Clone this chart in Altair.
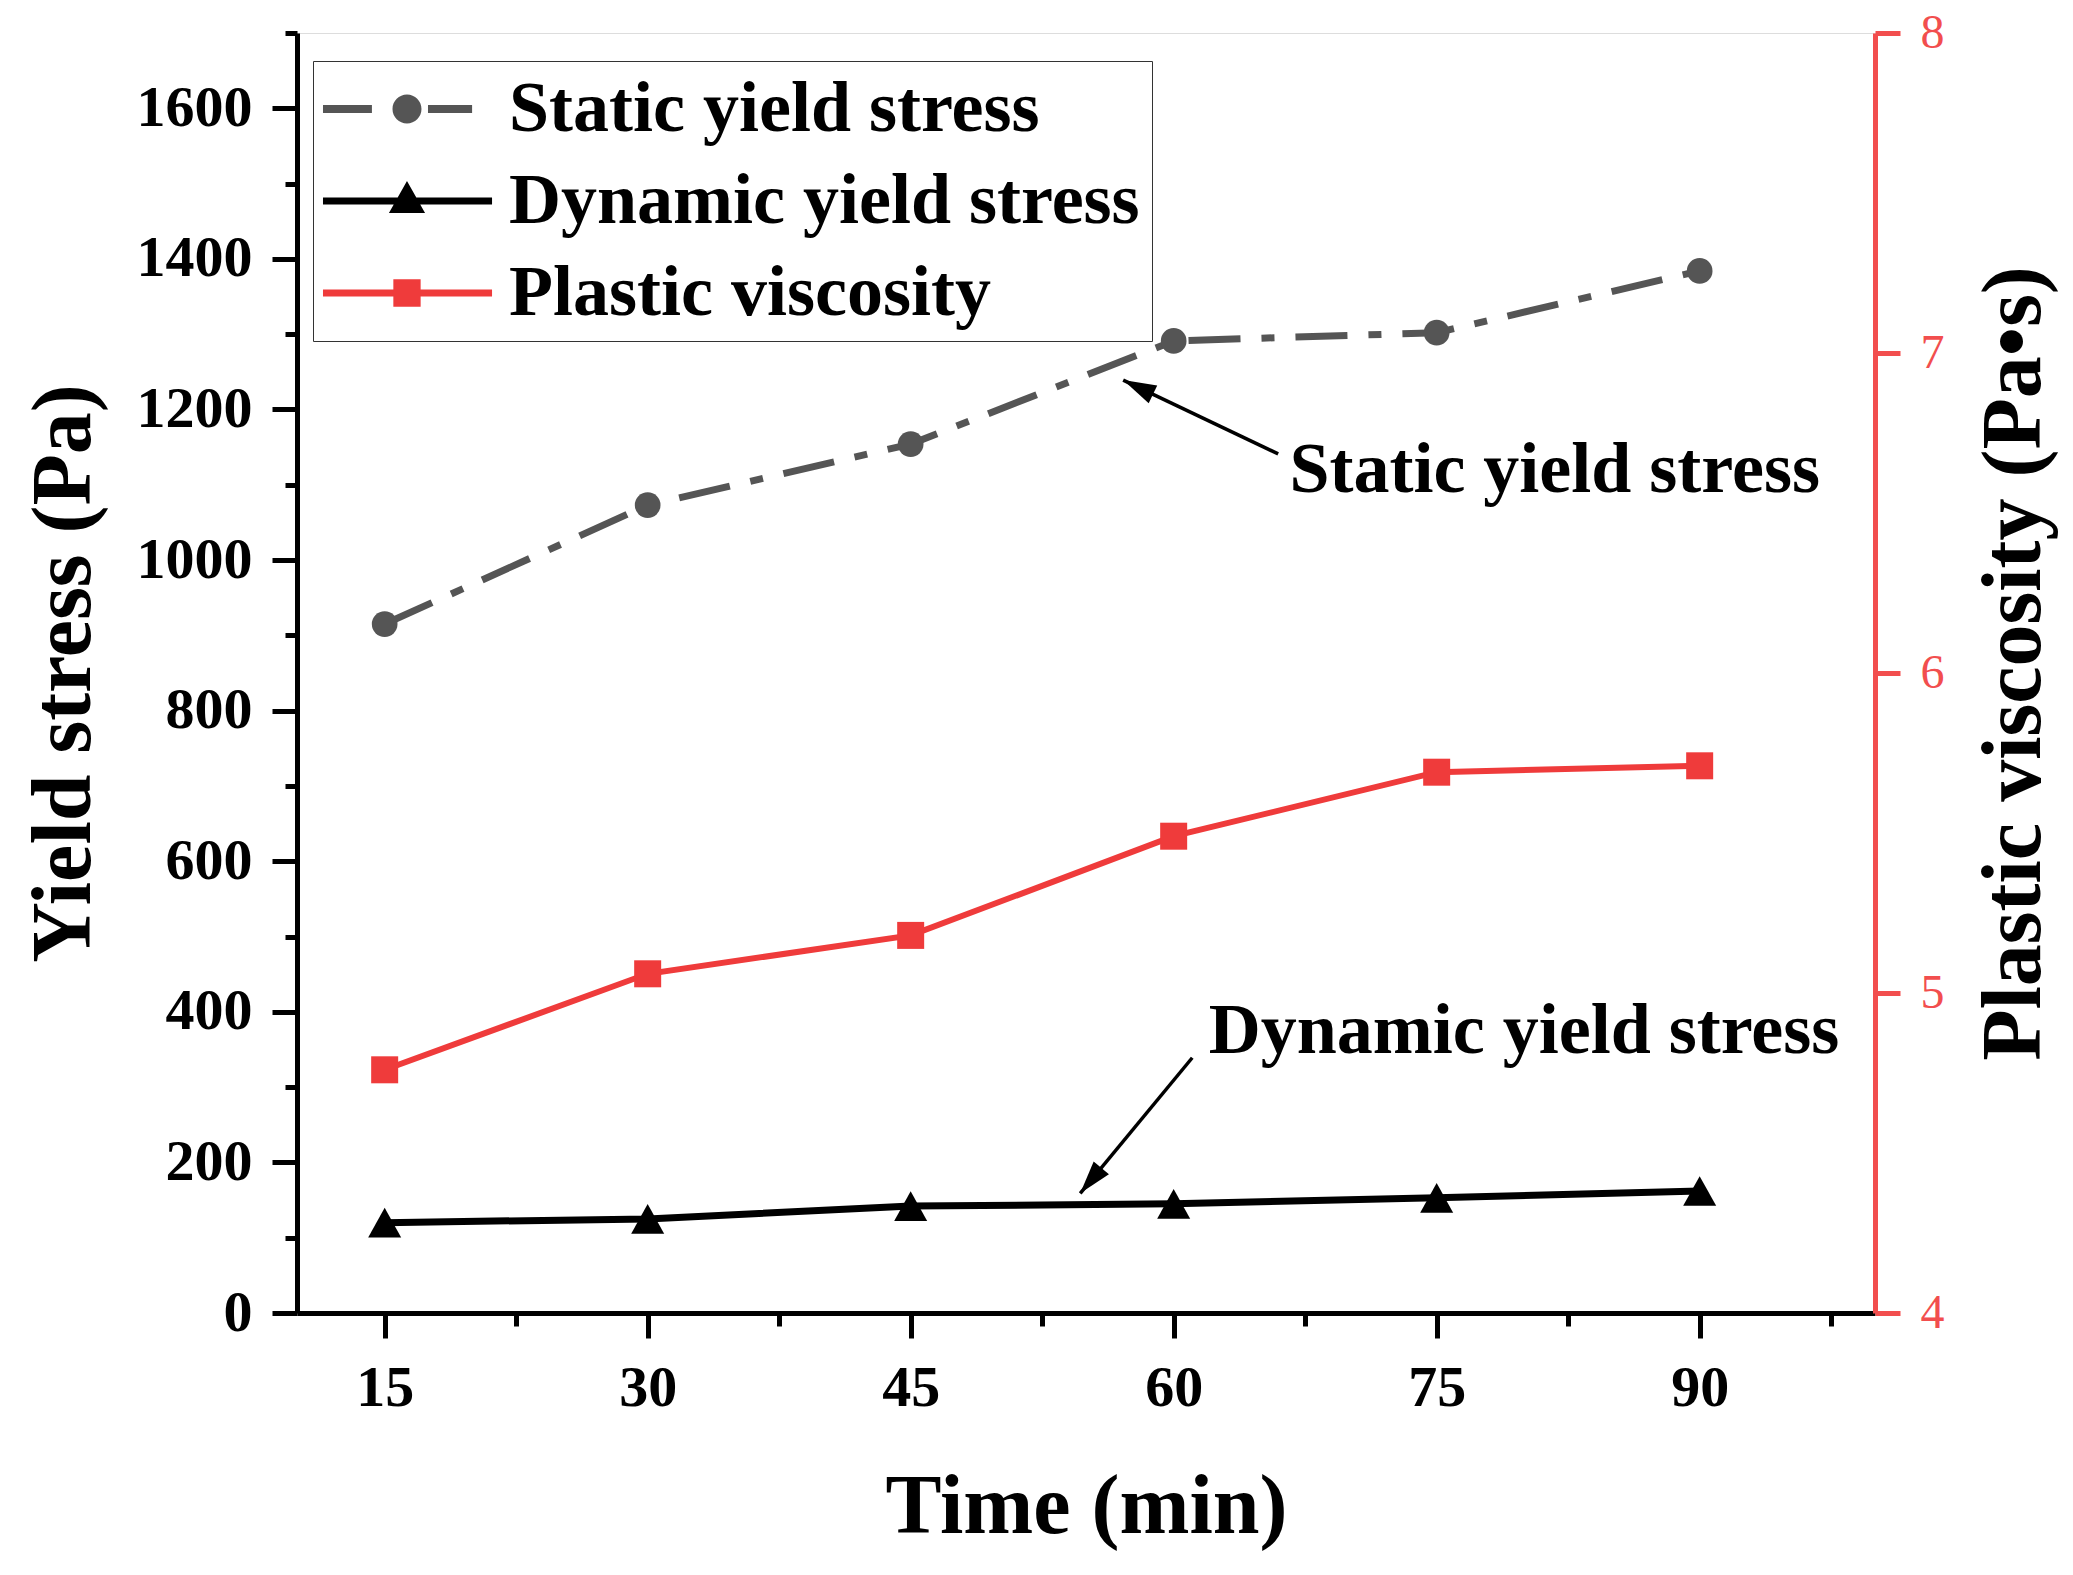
import altair as alt
import pandas as pd

# ---------------- data ----------------
time = [15, 30, 45, 60, 75, 90]
static_ys = [915, 1073, 1154, 1291, 1302, 1384]
dynamic_ys = [120, 125, 142, 145, 153, 162]
viscosity = [4.76, 5.06, 5.18, 5.49, 5.69, 5.71]

series = ["Static yield stress", "Dynamic yield stress", "Plastic viscosity"]
series_colors = ["#555555", "#000000", "#EF3B3B"]

# annotation texts and arrows (data coordinates)
ann_labels = ["Static yield stress", "Dynamic yield stress"]
ann_text_x = [66.6, 62.0]
ann_text_y = [1090, 345]
arrow_tail_x = [65.96, 61.06]
arrow_tail_y = [1141, 339]
arrow_tip_x = [57.12, 54.67]
arrow_tip_y = [1239, 159]
arrow_angle = [295.5, 219.7]

x_ticks = [15 + 7.5 * i for i in range(12)]
left_ticks = list(range(0, 1701, 100))
right_ticks = [4 + 0.5 * i for i in range(9)]

FONT = "Liberation Serif"
AXIS_RED = "#F24E4E"

df = pd.DataFrame({"time": time, "static": static_ys, "dynamic": dynamic_ys, "visc": viscosity})
ann = pd.DataFrame({
    "label": ann_labels, "tx": ann_text_x, "ty": ann_text_y,
    "x1": arrow_tail_x, "y1": arrow_tail_y, "x2": arrow_tip_x, "y2": arrow_tip_y,
    "angle": arrow_angle,
})
leg = pd.DataFrame({"series": series, "time": [time[0]] * 3, "val": [static_ys[0]] * 3})

W, H = 1578, 1280

x_axis = alt.Axis(
    title="Time (min)", values=x_ticks, format="d",
    labelExpr="(datum.value - 15) % 15 === 0 ? datum.label : ''",
    tickDash={"condition": {"test": "(datum.value - 15) % 15 !== 0", "value": [13, 100]}, "value": [100, 0]},
    tickSize=25, tickWidth=5, tickColor="black", domainColor="black", domainWidth=5,
    labelFont=FONT, labelFontWeight="bold", labelFontSize=58, labelColor="black",
    labelBaseline="alphabetic", labelPadding=67, labelOverlap=False, labelFlush=False,
    titleFont=FONT, titleFontWeight="bold", titleFontSize=84, titleColor="black",
    titleX=W / 2, titleY=219, titleBaseline="alphabetic", titleAlign="center",
    grid=False, orient="bottom",
)
left_axis = alt.Axis(
    title="Yield stress (Pa)", values=left_ticks, format="d",
    labelExpr="datum.value % 200 === 0 ? datum.label : ''",
    tickDash={"condition": {"test": "datum.value % 200 !== 0", "value": [12, 100]}, "value": [100, 0]},
    tickSize=25, tickWidth=5, tickColor="black", domainColor="black", domainWidth=5,
    labelFont=FONT, labelFontWeight="bold", labelFontSize=58, labelColor="black",
    labelPadding=20, labelBaseline="middle", labelOverlap=False, labelFlush=False,
    titleFont=FONT, titleFontWeight="bold", titleFontSize=84, titleColor="black",
    titleAngle=270, titleX=-208, titleY=H / 2, titleBaseline="alphabetic", titleAlign="center",
    grid=False, orient="left",
)
right_axis = alt.Axis(
    title="Plastic viscosity (Pa•s)", values=right_ticks, format="d",
    labelExpr="datum.value % 1 === 0 ? datum.label : ''",
    tickDash={"condition": {"test": "datum.value % 1 !== 0", "value": [12, 100]}, "value": [100, 0]},
    tickSize=25, tickWidth=5, tickColor=AXIS_RED, domainColor=AXIS_RED, domainWidth=5,
    labelFont=FONT, labelFontWeight="normal", labelFontSize=48, labelColor=AXIS_RED,
    labelPadding=20, labelBaseline="middle", labelOverlap=False, labelFlush=False,
    titleFont=FONT, titleFontWeight="bold", titleFontSize=84, titleColor="black",
    titleAngle=270, titleX=164, titleY=H / 2 - 10, titleBaseline="alphabetic", titleAlign="center",
    grid=False, orient="right",
)

xscale = alt.Scale(domain=[10, 100], nice=False, zero=False)
lscale = alt.Scale(domain=[0, 1700], nice=False, zero=False)
rscale = alt.Scale(domain=[4, 8], nice=False, zero=False)


def X(field):
    return alt.X(f"{field}:Q", scale=xscale, axis=x_axis)


def YL(field):
    return alt.Y(f"{field}:Q", scale=lscale, axis=left_axis)


base = alt.Chart(df)

static_line = base.mark_line(color="#555555", strokeWidth=7, strokeDash=[52, 21, 13, 21]).encode(
    x=X("time"), y=YL("static"))
static_pts = base.mark_point(shape="circle", filled=True, size=660, color="#555555",
                             opacity=1, strokeWidth=0).encode(x=X("time"), y=YL("static"))
dyn_line = base.mark_line(color="black", strokeWidth=7).encode(x=X("time"), y=YL("dynamic"))
dyn_pts = base.mark_point(shape="M0,-0.9L1,0.9L-1,0.9Z", filled=True, size=1089, color="black",
                          opacity=1, strokeWidth=0).encode(x=X("time"), y=YL("dynamic"))

arrows = alt.Chart(ann).mark_rule(color="black", strokeWidth=3.5).encode(
    x=X("x1"), y=YL("y1"), x2="x2:Q", y2="y2:Q")
heads = alt.Chart(ann).mark_point(shape="M0,0L-0.6,2L0.6,2Z", filled=True, size=1089,
                                  color="black", opacity=1, strokeWidth=0).encode(
    x=X("x2"), y=YL("y2"), angle=alt.Angle("angle:Q", scale=None))
texts = alt.Chart(ann).mark_text(align="left", baseline="alphabetic", font=FONT,
                                 fontWeight="bold", fontSize=72, color="black").encode(
    x=X("tx"), y=YL("ty"), text="label:N")

# legend symbols: line + marker drawn as custom paths
leg_paths = [
    "M-1.81,-0.19H0.52V0.19H-1.81Z M3.19,-0.19H5.29V0.19H3.19Z "
    "M2.88,0A0.69,0.69 0 1,1 1.5,0A0.69,0.69 0 1,1 2.88,0Z",
    "M-1.81,-0.17H6.24V0.17H-1.81Z M2.19,-0.95L3.05,0.57L1.33,0.57Z",
    "M-1.81,-0.17H6.24V0.17H-1.81Z M1.54,-0.65H2.84V0.65H1.54Z",
]
legend = alt.Legend(
    title=None, orient="none", legendX=16, legendY=28,
    symbolSize=1764, symbolOpacity=1, symbolStrokeWidth=0,
    labelOffset=112, rowPadding=20, padding=12,
    labelFont=FONT, labelFontWeight="bold", labelFontSize=72, labelColor="black",
    labelLimit=3000, strokeColor="#333333", fillColor="white",
)
legend_layer = alt.Chart(leg).mark_point(filled=True, size=1764, opacity=0, strokeWidth=0).encode(
    x=X("time"), y=YL("val"),
    color=alt.Color("series:N", scale=alt.Scale(domain=series, range=series_colors), legend=legend),
    shape=alt.Shape("series:N", scale=alt.Scale(domain=series, range=leg_paths), legend=legend),
)

left = alt.layer(static_line, static_pts, dyn_line, dyn_pts, arrows, heads, texts, legend_layer)

visc_line = base.mark_line(color="#EF3B3B", strokeWidth=6).encode(
    x=X("time"), y=alt.Y("visc:Q", scale=rscale, axis=right_axis))
visc_pts = base.mark_point(shape="square", filled=True, size=729, color="#EF3B3B",
                           opacity=1, strokeWidth=0).encode(
    x=X("time"), y=alt.Y("visc:Q", scale=rscale, axis=right_axis))
right = alt.layer(visc_line, visc_pts)

chart = alt.layer(left, right).resolve_scale(y="independent").properties(
    width=W, height=H,
    padding={"left": 289, "top": 25, "right": 190, "bottom": 240},
    autosize=alt.AutoSizeParams(type="none"),
    background="white",
).configure_view(stroke="black", strokeWidth=5).configure_legend(strokeWidth=3).configure(font=FONT)

chart.save("out.html", embed_options={"renderer": "svg", "actions": False})
